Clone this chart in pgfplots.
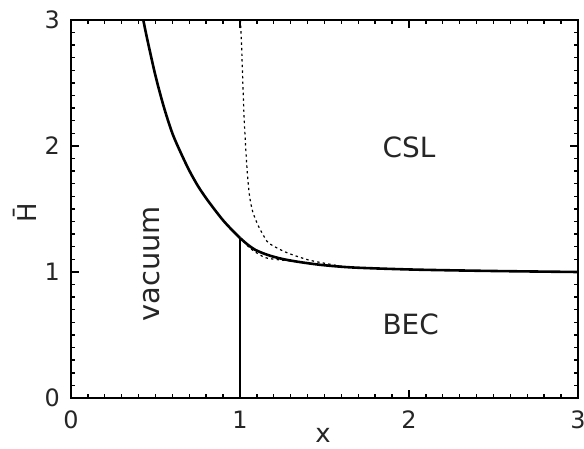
\documentclass[border=0pt]{standalone}
\usepackage{fontspec}
\setmainfont{DejaVu Sans}
\usepackage{pgfplots}
\pgfplotsset{compat=1.18}

% phase boundaries
\pgfplotstableread{
x      y
0.428  3.000
0.45   2.855
0.50   2.557
0.55   2.307
0.60   2.100
0.65   1.945
0.70   1.805
0.75   1.685
0.80   1.585
0.85   1.495
0.90   1.410
0.95   1.337
1.00   1.270
}\solidleft

\pgfplotstableread{
x      y
1.00   1.270
1.045  1.218
1.09   1.176
1.15   1.142
1.207  1.118
1.26   1.101
1.325  1.085
1.40   1.070
1.503  1.053
1.68   1.035
2.035  1.019
2.5    1.008
3.0    1.000
}\solidright

\pgfplotstableread{
x      y
1.003  3.00
1.01   2.77
1.024  2.24
1.04   1.85
1.055  1.62
1.075  1.48
1.107  1.37
1.135  1.30
1.17   1.23
1.266  1.16
1.37   1.11
1.44   1.085
1.60   1.045
}\upperdotted

\pgfplotstableread{
x      y
1.02   1.245
1.05   1.20
1.089  1.16
1.148  1.115
1.21   1.10
1.266  1.092
1.37   1.076
1.50   1.053
}\lowerdotted

\begin{document}
\begin{tikzpicture}
\begin{axis}[
    scale only axis,
    width=253.5bp,
    height=189bp,
    xmin=0, xmax=3,
    ymin=0, ymax=3,
    xtick={0,1,2,3},
    ytick={0,1,2,3},
    minor tick num=9,
    tick align=inside,
    major tick length=4bp,
    minor tick length=2.2bp,
    axis line style={line width=0.9bp},
    every tick/.style={black, line width=0.7bp},
    /pgf/number format/assume math mode=true,
    tick label style={font=\fontsize{12}{14}\selectfont, text=black!85},
    xticklabel style={yshift=-3bp},
    yticklabel style={xshift=-2bp},
    xlabel={x},
    ylabel={H̄},
    label style={font=\fontsize{13}{15}\selectfont, text=black!85},
    xlabel style={at={(axis description cs:0.497,-0.1)}, anchor=center},
    ylabel style={at={(axis description cs:-0.091,0.49)}, anchor=center},
]
\addplot[black, line width=1.3bp, smooth, no markers] table[x=x,y=y] {\solidleft};
\addplot[black, line width=1.3bp, smooth, no markers] table[x=x,y=y] {\solidright};
\addplot[black, line width=1.4bp, no markers] coordinates {(1,0) (1,1.27)};
\addplot[black, line width=0.6bp, dash pattern=on 1.2bp off 1.6bp, smooth, no markers] table[x=x,y=y] {\upperdotted};
\addplot[black, line width=0.6bp, dash pattern=on 1.2bp off 1.6bp, smooth, no markers] table[x=x,y=y] {\lowerdotted};

\node[font=\fontsize{14}{16}\selectfont, text=black!85] at (axis cs:2.0,1.99) {CSL};
\node[font=\fontsize{14}{16}\selectfont, text=black!85] at (axis cs:2.01,0.585) {BEC};
\node[font=\fontsize{14.5}{16}\selectfont, text=black!85, rotate=90] at (axis cs:0.479,1.065) {vacuum};
\end{axis}
\pgfresetboundingbox
\path[use as bounding box] ([shift={(-35.5bp,-25.5bp)}]current axis.south west)
    rectangle ([shift={(3bp,10bp)}]current axis.north east);
\end{tikzpicture}
\end{document}
